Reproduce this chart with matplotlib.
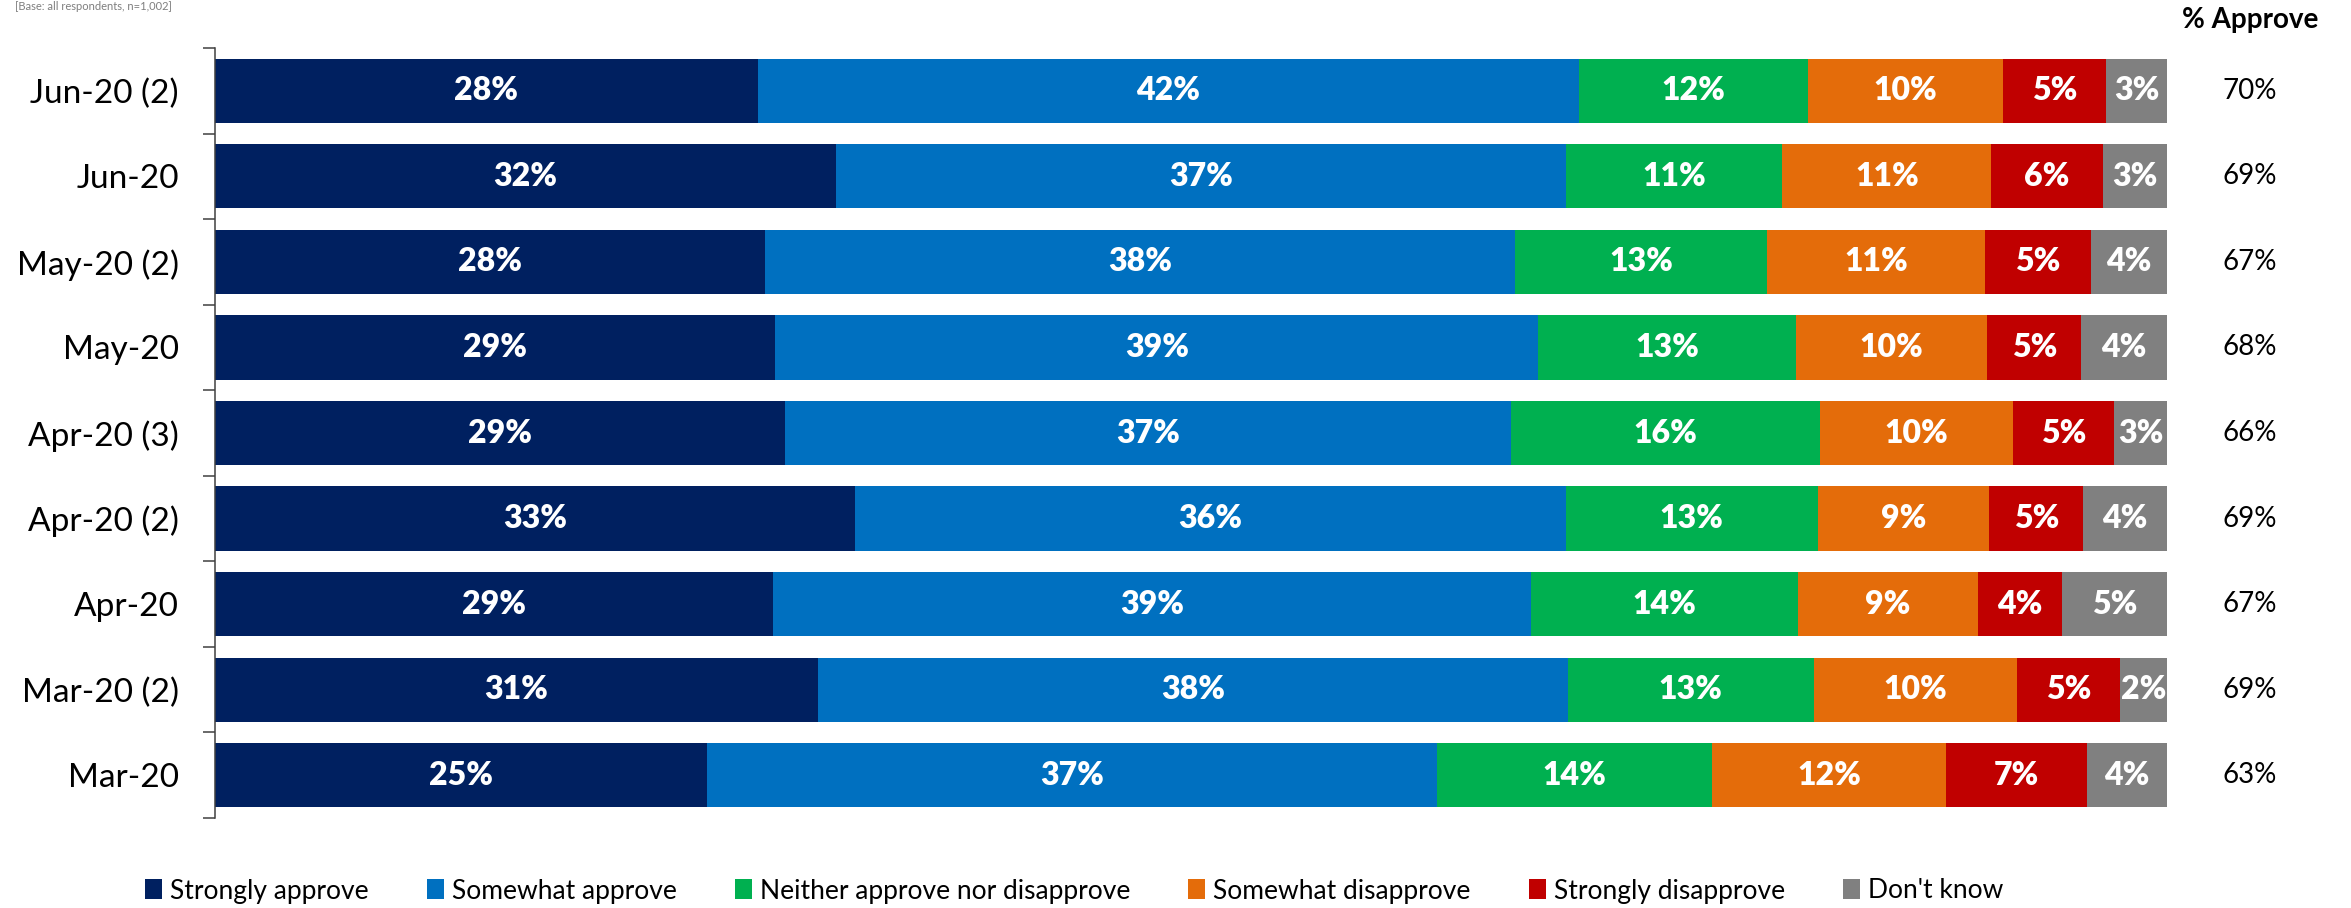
import matplotlib
matplotlib.use("Agg")
import matplotlib.pyplot as plt
from matplotlib import font_manager
import numpy as np

# ---- data ----
categories = ["Jun-20 (2)", "Jun-20", "May-20 (2)", "May-20", "Apr-20 (3)",
              "Apr-20 (2)", "Apr-20", "Mar-20 (2)", "Mar-20"]
series_names = ["Strongly approve", "Somewhat approve", "Neither approve nor disapprove",
                "Somewhat disapprove", "Strongly disapprove", "Don't know"]
strongly_approve = [27.8, 31.8, 28.2, 28.7, 29.2, 32.8, 28.6, 30.9, 25.2]
somewhat_approve = [42.1, 37.4, 38.4, 39.1, 37.2, 36.4, 38.8, 38.4, 37.4]
neither = [11.7, 11.1, 12.9, 13.2, 15.8, 12.9, 13.7, 12.6, 14.1]
somewhat_disapprove = [10.0, 10.7, 11.2, 9.8, 9.9, 8.8, 9.2, 10.4, 12.0]
strongly_disapprove = [5.3, 5.7, 5.4, 4.8, 5.2, 4.8, 4.3, 5.3, 7.2]
dont_know = [3.1, 3.3, 3.9, 4.4, 2.7, 4.3, 5.4, 2.4, 4.1]
pct_approve = [70, 69, 67, 68, 66, 69, 67, 69, 63]

colors = ["#002060", "#0070C0", "#00B050", "#E46C0A", "#C00000", "#808080"]

available = {f.name for f in font_manager.fontManager.ttflist}
for cand in ["Lato", "Open Sans", "Noto Sans", "DejaVu Sans"]:
    if cand in available:
        FONT = cand
        break
plt.rcParams["font.family"] = [FONT, "DejaVu Sans"]

W, H = 2351, 908
fig = plt.figure(figsize=(W / 100, H / 100), dpi=100)
ax_left, ax_right, ax_top, ax_bottom = 215, 2167, 48, 818
ax = fig.add_axes([ax_left / W, 1 - ax_bottom / H, (ax_right - ax_left) / W, (ax_bottom - ax_top) / H])

data = [strongly_approve, somewhat_approve, neither, somewhat_disapprove, strongly_disapprove, dont_know]
y = np.arange(len(categories))
left = np.zeros(len(categories))
for name, vals, col in zip(series_names, data, colors):
    vals = np.array(vals)
    ax.barh(y, vals, left=left, height=0.75, color=col, label=name, edgecolor="none")
    for yi, l, v in zip(y, left, vals):
        ax.text(l + v / 2, yi, f"{v:.0f}%", ha="center", va="center", color="white",
                fontsize=23, fontweight="heavy")
    left += vals

ax.set_xlim(0, 100)
ax.set_ylim(len(categories) - 0.5, -0.5)
ax.set_yticks(y)
ax.set_yticklabels(categories, fontsize=24, color="black")
ax.tick_params(axis="y", which="major", length=0, pad=26)
ax.set_yticks(np.arange(-0.5, len(categories), 1), minor=True)
ax.tick_params(axis="y", which="minor", length=9, width=1.1, color="#404040", direction="out")
ax.set_xticks([])
for s in ["top", "right", "bottom"]:
    ax.spines[s].set_visible(False)
ax.spines["left"].set_color("#404040")
ax.spines["left"].set_linewidth(1.1)

# % Approve column
xcol = (2250 - ax_left) / (ax_right - ax_left)
for yi, p in zip(y, pct_approve):
    ax.text(xcol, yi, f"{p}%", transform=ax.get_yaxis_transform(), ha="center", va="center",
            fontsize=20, color="black", clip_on=False)
fig.text(2250 / W, 1 - 20 / H, "% Approve", ha="center", va="center", fontsize=20,
         fontweight="bold", color="black")

# base note at top-left (kept small so it stays inside the canvas)
fig.text(15 / W, 1 - 1 / H, "[Base: all respondents, n=1,002]", ha="left", va="top",
         fontsize=8, color="#7F7F7F")

handles, labels = ax.get_legend_handles_labels()
fig.legend(handles, labels, loc="center left", bbox_to_anchor=(145 / W, 1 - 891 / H),
           ncol=6, frameon=False, fontsize=19, handlelength=0.65, handleheight=0.8,
           handletextpad=0.3, columnspacing=2.2, borderpad=0, borderaxespad=0)

fig.savefig("out.png", dpi=100)
